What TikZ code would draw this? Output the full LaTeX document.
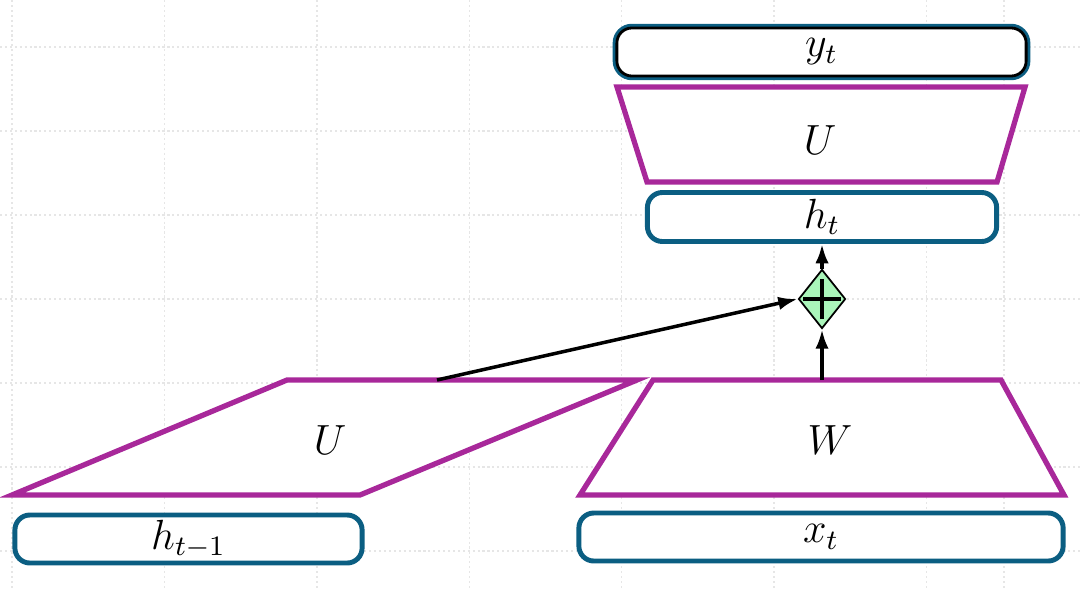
\documentclass[tikz,border=0pt]{standalone}
\usepackage{amsmath}
\usepackage{tikz}
\usetikzlibrary{calc,shapes.geometric,arrows.meta}

\definecolor{vecblue}{HTML}{0B5E82}
\definecolor{layermag}{HTML}{A8289A}
\definecolor{sumgreen}{HTML}{AAF5BA}
\definecolor{gridgray}{HTML}{E6E6E6}

\tikzset{
  vec/.style={draw=vecblue,line width=1.4pt,rounded corners=0.15cm,fill=white,
    inner sep=0pt,font=\fontsize{12}{14}\selectfont},
  layer/.style={draw=layermag,line width=1.5pt,line join=miter,fill=white},
  flow/.style={line width=1pt,-{Latex[length=5.5pt,width=3.8pt]}},
}

\begin{document}
\begin{tikzpicture}[x=0.01cm,y=-0.01cm]
          \useasboundingbox (0,0) rectangle (1080,588);
          % background grid
          \foreach \gx in {12,164.4,316.8,469.2,621.6,774,926.4,1004}
            \draw[gridgray,line width=0.4pt,dash pattern=on 0.6pt off 0.8pt] (\gx,0)--(\gx,588);
          \foreach \gy in {47,131,215,299,383,467,551}
            \draw[gridgray,line width=0.4pt,dash pattern=on 0.6pt off 0.8pt] (0,\gy)--(1080,\gy);
          % layers
          \draw[layer] (617,87)--(1025,87)--(997,182)--(647,182)--cycle;
          \node (Uout) at (820,140) {\fontsize{12}{14}\selectfont$U$};
          \draw[layer] (12,495)--(360,495)--(637,380)--(287,380)--cycle;
          \node (Urec) at (330,440) {\fontsize{12}{14}\selectfont$U$};
          \draw[layer] (580,495)--(1064,495)--(1001,380)--(653,380)--cycle;
          \node (Win) at (830,440) {\fontsize{12}{14}\selectfont$W$};
          \coordinate (Utop) at (437,380);
          \coordinate (Wtop) at (822,380);
          % vectors
          \node[vec,draw=black,line width=0.8pt,preaction={draw=vecblue,line width=2.4pt},
            minimum width=4.09cm,minimum height=0.48cm] (yt) at (821.5,52) {$y_t$};
          \node[vec,minimum width=3.49cm,minimum height=0.49cm] (ht) at (822,217) {$h_t$};
          \node[vec,minimum width=3.47cm,minimum height=0.48cm] (hprev) at (188.5,539) {$h_{t-1}$};
          \node[vec,minimum width=4.84cm,minimum height=0.48cm] (xt) at (821,537) {$x_t$};
          % sum
          \node[diamond,draw,fill=sumgreen,line width=0.5pt,inner sep=0pt,
            minimum width=0.47cm,minimum height=0.59cm] (sum) at (822,299) {};
          \draw[line width=1.3pt] ([xshift=-0.19cm]sum.center)--([xshift=0.19cm]sum.center);
          \draw[line width=1.3pt] ([yshift=-0.2cm]sum.center)--([yshift=0.2cm]sum.center);
          \draw[flow] (Wtop)--(sum.south);
          \draw[flow] (sum.north)--(ht.south);
          \draw[flow] (Utop)--(sum.west);
        \end{tikzpicture}
\end{document}
